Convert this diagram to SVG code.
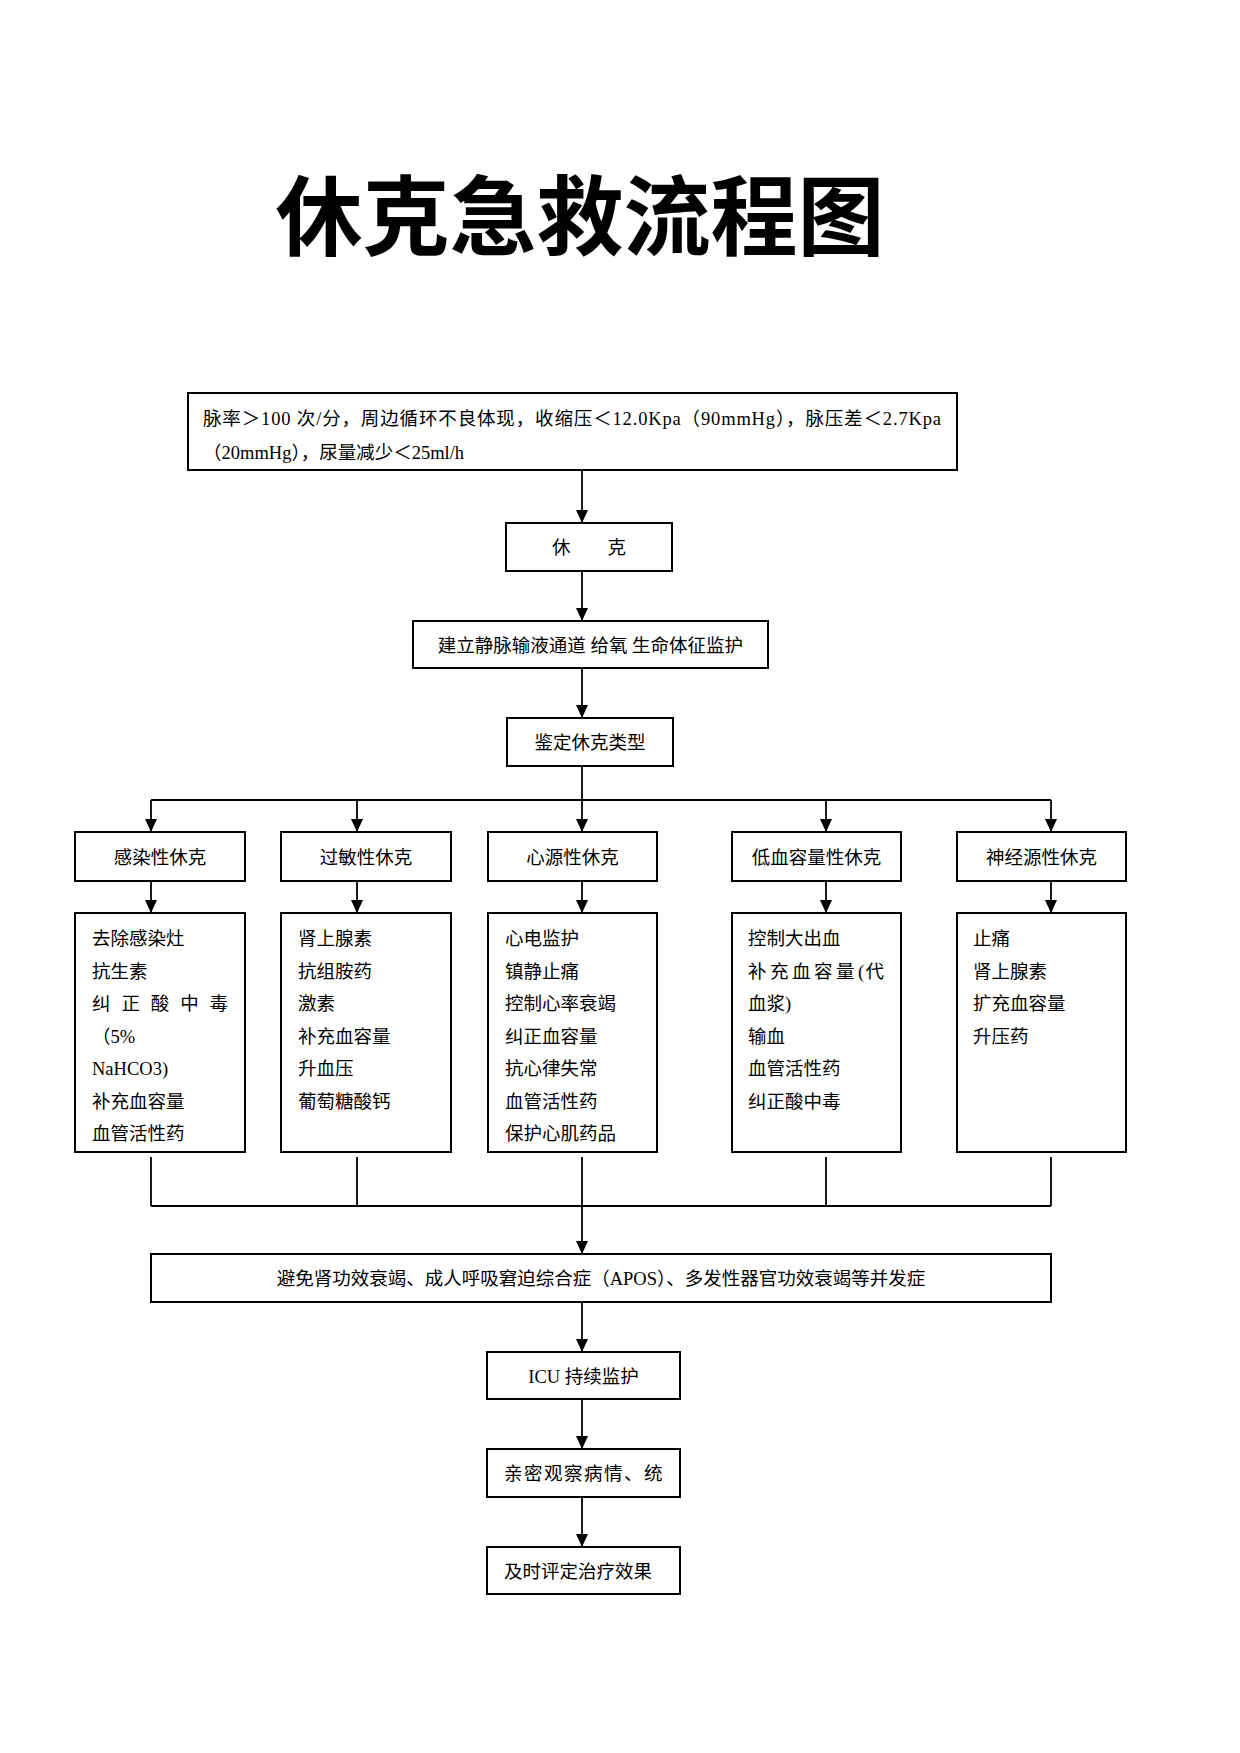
<svg xmlns="http://www.w3.org/2000/svg" width="1240" height="1753" viewBox="0 0 1240 1753">
<style>
.bg{fill:#fff}
.box{fill:#fff;stroke:#000;stroke-width:2}
.t{font-family:"Liberation Serif","Noto Sans CJK SC",serif;font-size:18.5px;fill:#000}
.c{text-anchor:middle}
.title{font-family:"Noto Sans CJK SC","Noto Sans CJK JP",sans-serif;font-size:87px;font-weight:700;fill:#000;text-anchor:middle}
.ln{fill:none;stroke:#000;stroke-width:1.8}
.ar{fill:none;stroke:#000;stroke-width:1.8;marker-end:url(#ah)}
</style>
<defs>
<marker id="ah" markerUnits="userSpaceOnUse" markerWidth="14" markerHeight="12" refX="13" refY="6" orient="auto">
<path d="M0,0 L13,6 L0,12 z" fill="#000"/>
</marker>
</defs>
<rect class="bg" x="0" y="0" width="1240" height="1753"/>
<text class="title" x="580" y="249">休克急救流程图</text>

<g id="connectors">
<line class="ar" x1="582" y1="470" x2="582" y2="523"/>
<line class="ar" x1="582" y1="571" x2="582" y2="621"/>
<line class="ar" x1="582" y1="668" x2="582" y2="718"/>
<line class="ln" x1="582" y1="766" x2="582" y2="800"/>
<line class="ln" x1="151" y1="800" x2="1051" y2="800"/>
<line class="ar" x1="151" y1="800" x2="151" y2="832"/>
<line class="ar" x1="357" y1="800" x2="357" y2="832"/>
<line class="ar" x1="582" y1="800" x2="582" y2="832"/>
<line class="ar" x1="826" y1="800" x2="826" y2="832"/>
<line class="ar" x1="1051" y1="800" x2="1051" y2="832"/>
<line class="ar" x1="151" y1="881" x2="151" y2="913"/>
<line class="ar" x1="357" y1="881" x2="357" y2="913"/>
<line class="ar" x1="582" y1="881" x2="582" y2="913"/>
<line class="ar" x1="826" y1="881" x2="826" y2="913"/>
<line class="ar" x1="1051" y1="881" x2="1051" y2="913"/>
<line class="ln" x1="151" y1="1157" x2="151" y2="1206"/>
<line class="ln" x1="357" y1="1157" x2="357" y2="1206"/>
<line class="ln" x1="826" y1="1157" x2="826" y2="1206"/>
<line class="ln" x1="1051" y1="1157" x2="1051" y2="1206"/>
<line class="ln" x1="151" y1="1206" x2="1051" y2="1206"/>
<line class="ar" x1="582" y1="1157" x2="582" y2="1254"/>
<line class="ar" x1="582" y1="1302" x2="582" y2="1352"/>
<line class="ar" x1="582" y1="1399" x2="582" y2="1449"/>
<line class="ar" x1="582" y1="1497" x2="582" y2="1547"/>
</g>

<g id="n-criteria">
<rect class="box" x="188" y="393" width="769" height="77"/>
<text class="t" x="203" y="425" textLength="738" lengthAdjust="spacing">脉率＞100 次/分，周边循环不良体现，收缩压＜12.0Kpa（90mmHg），脉压差＜2.7Kpa</text>
<text class="t" x="203" y="459">（20mmHg），尿量减少＜25ml/h</text>
</g>

<g id="n-shock">
<rect class="box" x="506" y="523" width="166" height="48"/>
<text class="t c" x="589" y="554">休　　克</text>
</g>

<g id="n-iv">
<rect class="box" x="413" y="621" width="355" height="47"/>
<text class="t c" x="590.5" y="652">建立静脉输液通道 给氧 生命体征监护</text>
</g>

<g id="n-identify">
<rect class="box" x="507" y="718" width="166" height="48"/>
<text class="t c" x="590" y="749">鉴定休克类型</text>
</g>

<g id="n-type1">
<rect class="box" x="75" y="832" width="170" height="49"/>
<text class="t c" x="160" y="864">感染性休克</text>
</g>
<g id="n-type2">
<rect class="box" x="281" y="832" width="170" height="49"/>
<text class="t c" x="366" y="864">过敏性休克</text>
</g>
<g id="n-type3">
<rect class="box" x="488" y="832" width="169" height="49"/>
<text class="t c" x="572.5" y="864">心源性休克</text>
</g>
<g id="n-type4">
<rect class="box" x="732" y="832" width="169" height="49"/>
<text class="t c" x="816.5" y="864">低血容量性休克</text>
</g>
<g id="n-type5">
<rect class="box" x="957" y="832" width="169" height="49"/>
<text class="t c" x="1041.5" y="864">神经源性休克</text>
</g>

<g id="n-treat1">
<rect class="box" x="75" y="913" width="170" height="239"/>
<text class="t" x="92" y="945">去除感染灶</text>
<text class="t" x="92" y="977.5">抗生素</text>
<text class="t" x="92 121.4 150.8 180.2 209.6" y="1010">纠正酸中毒</text>
<text class="t" x="92" y="1042.5">（5%</text>
<text class="t" x="92" y="1075">NaHCO3)</text>
<text class="t" x="92" y="1107.5">补充血容量</text>
<text class="t" x="92" y="1140">血管活性药</text>
</g>
<g id="n-treat2">
<rect class="box" x="281" y="913" width="170" height="239"/>
<text class="t" x="298" y="945">肾上腺素</text>
<text class="t" x="298" y="977.5">抗组胺药</text>
<text class="t" x="298" y="1010">激素</text>
<text class="t" x="298" y="1042.5">补充血容量</text>
<text class="t" x="298" y="1075">升血压</text>
<text class="t" x="298" y="1107.5">葡萄糖酸钙</text>
</g>
<g id="n-treat3">
<rect class="box" x="488" y="913" width="169" height="239"/>
<text class="t" x="505" y="945">心电监护</text>
<text class="t" x="505" y="977.5">镇静止痛</text>
<text class="t" x="505" y="1010">控制心率衰竭</text>
<text class="t" x="505" y="1042.5">纠正血容量</text>
<text class="t" x="505" y="1075">抗心律失常</text>
<text class="t" x="505" y="1107.5">血管活性药</text>
<text class="t" x="505" y="1140">保护心肌药品</text>
</g>
<g id="n-treat4">
<rect class="box" x="732" y="913" width="169" height="239"/>
<text class="t" x="748" y="945">控制大出血</text>
<text class="t" x="748 770 792 814 836 858 865.5" y="977.5">补充血容量(代</text>
<text class="t" x="748" y="1010">血浆)</text>
<text class="t" x="748" y="1042.5">输血</text>
<text class="t" x="748" y="1075">血管活性药</text>
<text class="t" x="748" y="1107.5">纠正酸中毒</text>
</g>
<g id="n-treat5">
<rect class="box" x="957" y="913" width="169" height="239"/>
<text class="t" x="973" y="945">止痛</text>
<text class="t" x="973" y="977.5">肾上腺素</text>
<text class="t" x="973" y="1010">扩充血容量</text>
<text class="t" x="973" y="1042.5">升压药</text>
</g>

<g id="n-avoid">
<rect class="box" x="151" y="1254" width="900" height="48"/>
<text class="t c" x="601" y="1285">避免肾功效衰竭、成人呼吸窘迫综合症（APOS）、多发性器官功效衰竭等并发症</text>
</g>

<g id="n-icu">
<rect class="box" x="487" y="1352" width="193" height="47"/>
<text class="t c" x="583.5" y="1383">ICU 持续监护</text>
</g>
<g id="n-observe">
<rect class="box" x="487" y="1449" width="193" height="48"/>
<text class="t" x="504" y="1480" letter-spacing="1.5">亲密观察病情、统</text>
</g>
<g id="n-evaluate">
<rect class="box" x="487" y="1547" width="193" height="47"/>
<text class="t" x="504" y="1578">及时评定治疗效果</text>
</g>
</svg>
